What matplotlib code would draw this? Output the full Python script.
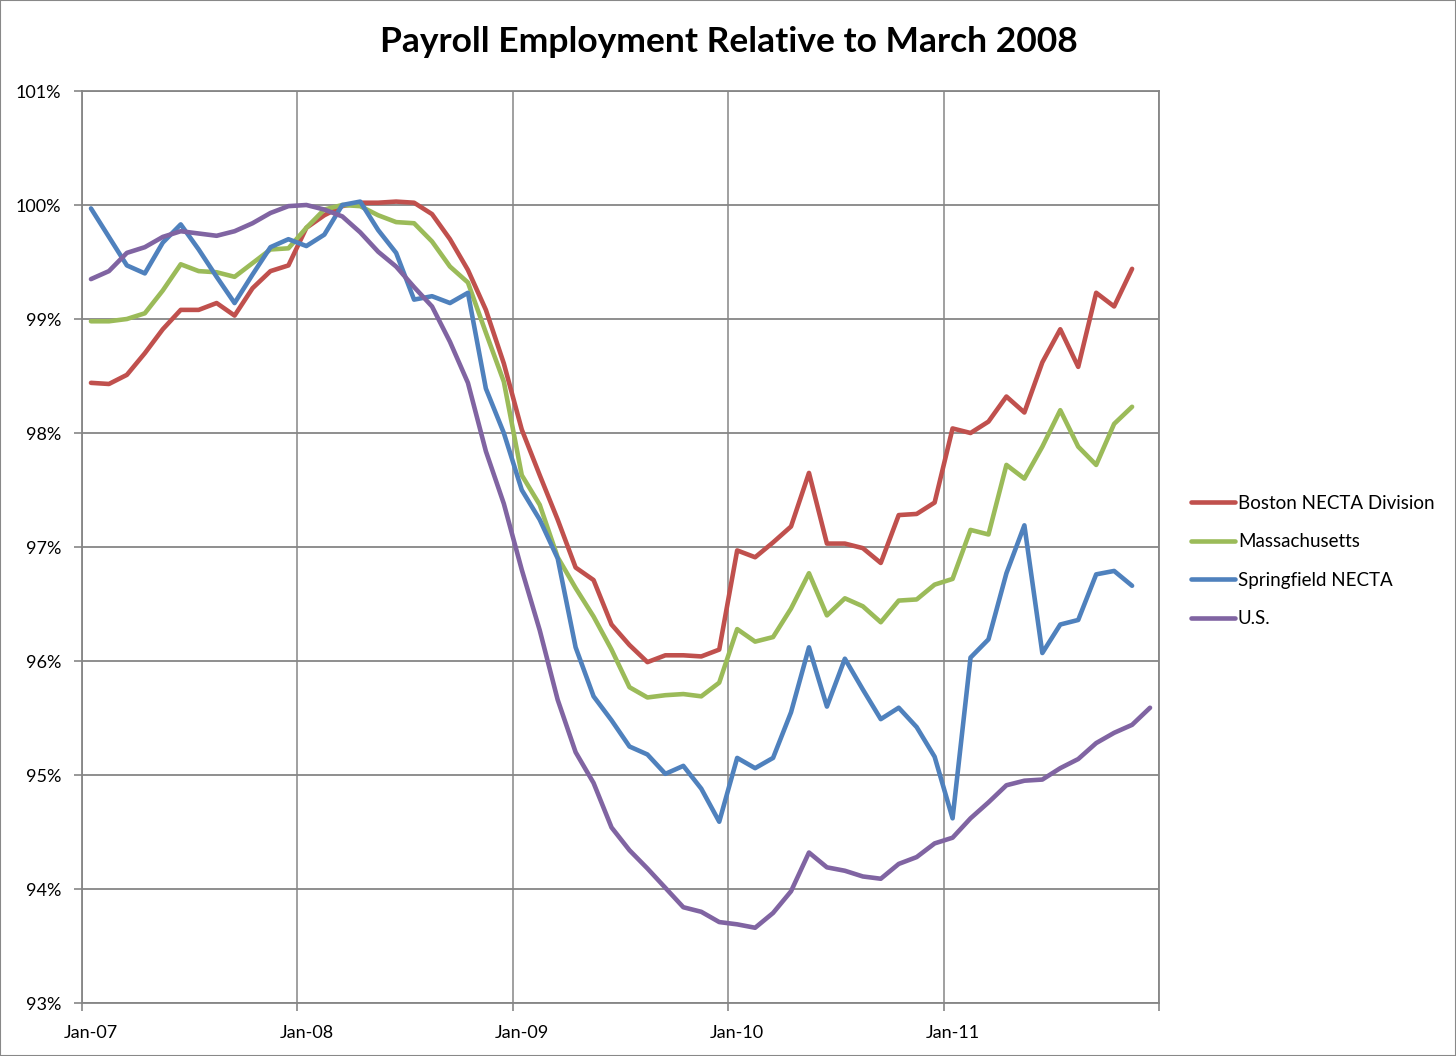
import numpy as np
import matplotlib
matplotlib.use("Agg")
import matplotlib.pyplot as plt
from matplotlib.patches import Rectangle

plt.rcParams['font.family'] = ['Lato', 'DejaVu Sans']

# monthly payroll employment, % of March 2008 level (Jan-07 .. Nov/Dec-11)
boston = [98.44, 98.43, 98.51, 98.70, 98.91, 99.08, 99.08, 99.14, 99.03, 99.27,
          99.42, 99.47, 99.80, 99.91, 99.99, 100.02, 100.02, 100.03, 100.02, 99.92,
          99.70, 99.43, 99.08, 98.61, 98.03, 97.63, 97.24, 96.82, 96.71, 96.32,
          96.14, 95.99, 96.05, 96.05, 96.04, 96.10, 96.97, 96.91, 97.04, 97.18,
          97.65, 97.03, 97.03, 96.99, 96.86, 97.28, 97.29, 97.39, 98.04, 98.00,
          98.10, 98.32, 98.18, 98.62, 98.91, 98.58, 99.23, 99.11, 99.44]
mass = [98.98, 98.98, 99.00, 99.05, 99.25, 99.48, 99.42, 99.41, 99.37, 99.49,
        99.61, 99.62, 99.80, 99.96, 100.00, 99.99, 99.91, 99.85, 99.84, 99.68,
        99.46, 99.32, 98.88, 98.45, 97.63, 97.37, 96.91, 96.64, 96.39, 96.10,
        95.77, 95.68, 95.70, 95.71, 95.69, 95.81, 96.28, 96.17, 96.21, 96.46,
        96.77, 96.40, 96.55, 96.48, 96.34, 96.53, 96.54, 96.67, 96.72, 97.15,
        97.11, 97.72, 97.60, 97.88, 98.20, 97.88, 97.72, 98.08, 98.23]
springfield = [99.97, 99.72, 99.47, 99.40, 99.67, 99.83, 99.61, 99.37, 99.14, 99.39,
               99.63, 99.70, 99.64, 99.74, 100.00, 100.03, 99.78, 99.58, 99.17, 99.20,
               99.14, 99.23, 98.39, 98.00, 97.50, 97.24, 96.90, 96.12, 95.69, 95.48,
               95.25, 95.18, 95.01, 95.08, 94.88, 94.59, 95.15, 95.06, 95.15, 95.55,
               96.12, 95.60, 96.02, 95.75, 95.49, 95.59, 95.42, 95.16, 94.62, 96.03,
               96.19, 96.77, 97.19, 96.07, 96.32, 96.36, 96.76, 96.79, 96.66]
us = [99.35, 99.42, 99.58, 99.63, 99.72, 99.77, 99.75, 99.73, 99.77, 99.84,
      99.93, 99.99, 100.00, 99.96, 99.90, 99.76, 99.59, 99.46, 99.28, 99.11,
      98.80, 98.44, 97.84, 97.38, 96.80, 96.27, 95.66, 95.20, 94.93, 94.54,
      94.34, 94.18, 94.01, 93.84, 93.80, 93.71, 93.69, 93.66, 93.79, 93.98,
      94.32, 94.19, 94.16, 94.11, 94.09, 94.22, 94.28, 94.40, 94.45, 94.62,
      94.76, 94.91, 94.95, 94.96, 95.06, 95.14, 95.28, 95.37, 95.44, 95.59]

series_names = ["Boston NECTA Division", "Massachusetts", "Springfield NECTA", "U.S."]
series_colors = ["#C0504D", "#9BBB59", "#4F81BD", "#8064A2"]
year_labels = ["Jan-07", "Jan-08", "Jan-09", "Jan-10", "Jan-11"]
n_months = 60

fig = plt.figure(figsize=(14.56, 10.56), dpi=100)
ax = fig.add_axes([82 / 1456, 53 / 1056, 1077 / 1456, 912 / 1056])

for name, vals, col in zip(series_names, [boston, mass, springfield, us], series_colors):
    ax.plot(np.arange(len(vals)), vals, color=col, lw=3.3, label=name,
            solid_joinstyle='round', solid_capstyle='round')

ax.set_xlim(-0.5, n_months - 0.5)
ax.set_ylim(93, 101)

grid_c = "#868686"
ax.set_yticks(np.arange(93, 102, 1))
ax.set_yticklabels([f"{v}%" for v in range(93, 102)])
ax.set_xticks(np.arange(0, n_months, 12))
ax.set_xticklabels(year_labels)
ax.set_xticks(np.arange(-0.5, n_months, 12), minor=True)

ax.tick_params(axis='x', which='major', length=0, pad=16, labelsize=13)
ax.tick_params(axis='x', which='minor', length=6, width=1.2, color=grid_c, direction='out')
ax.tick_params(axis='y', length=6, width=1.2, color=grid_c, pad=9, labelsize=13)

ax.grid(True, axis='y', color=grid_c, lw=1.3)
ax.grid(True, axis='x', which='minor', color=grid_c, lw=1.1)
ax.set_axisbelow(True)
for sp in ax.spines.values():
    sp.set_color(grid_c)
    sp.set_linewidth(1.3)

fig.text(729 / 1456, 1 - 42 / 1056, "Payroll Employment Relative to March 2008",
         ha='center', va='center', fontsize=25.5, fontweight='bold')

fig.legend(loc='center left', bbox_to_anchor=(1191 / 1456, 1 - 561 / 1056),
           frameon=False, fontsize=13.5, handlelength=2.35, handletextpad=0.15,
           labelspacing=1.14, borderpad=0, borderaxespad=0)

fig.patches.append(Rectangle((0, 0), 1, 1, transform=fig.transFigure,
                             fill=False, edgecolor="#888888", lw=1.5))

fig.savefig("out.png", dpi=100)
